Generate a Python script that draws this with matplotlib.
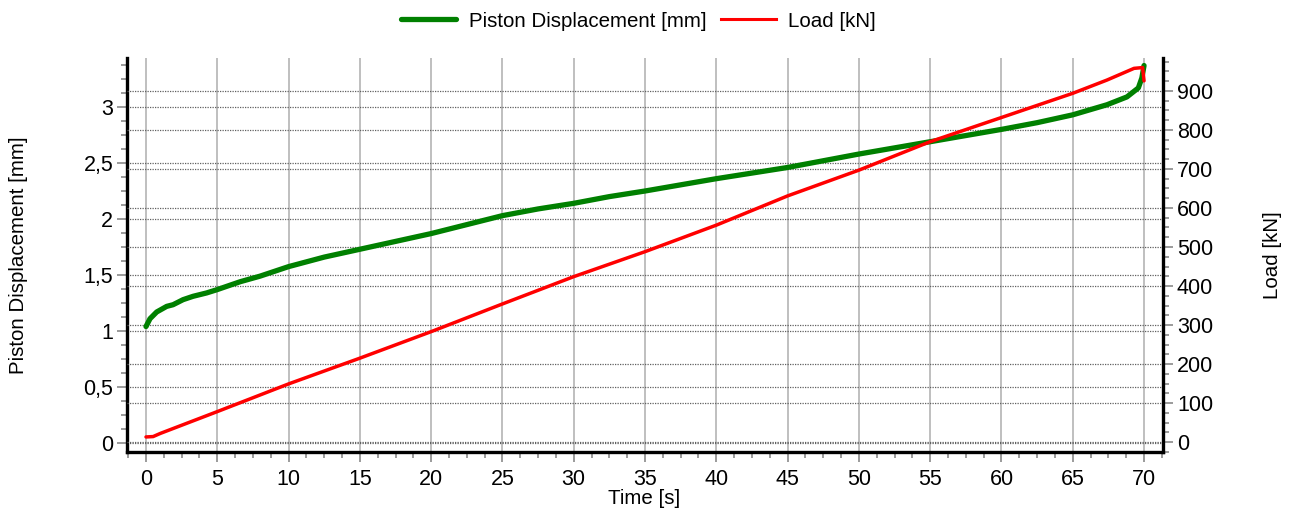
import matplotlib
matplotlib.use('Agg')
import matplotlib.pyplot as plt
from matplotlib.ticker import MultipleLocator, FuncFormatter
from matplotlib.lines import Line2D

plt.rcParams['font.family'] = ['Liberation Sans', 'DejaVu Sans']

# Piston displacement [mm] vs time [s]
t_disp = [0, 0.28, 0.75, 1.45, 1.9, 2.6, 3.3, 4.25, 5, 6.6, 8, 10, 12.5, 15, 17.5,
          20, 22.5, 25, 27.5, 30, 32.5, 35, 37.5, 40, 42.5, 45, 47.5, 50, 52.5,
          55, 57.5, 60, 62.5, 65, 67.4, 68.8, 69.6, 69.85, 70.0]
disp = [1.04, 1.11, 1.17, 1.22, 1.235, 1.28, 1.31, 1.34, 1.37, 1.44, 1.49, 1.575,
        1.66, 1.73, 1.80, 1.87, 1.95, 2.03, 2.09, 2.14, 2.20, 2.25, 2.305, 2.36,
        2.41, 2.46, 2.52, 2.58, 2.635, 2.69, 2.745, 2.80, 2.86, 2.93, 3.02, 3.09,
        3.17, 3.26, 3.37]

# Load [kN] vs time [s]
t_load = [0, 0.5, 1, 5, 10, 15, 20, 25, 30, 35, 40, 45, 50, 55, 60, 65, 67.4,
          69.3, 69.9, 70.0]
load = [13, 14, 22, 78, 149, 215, 283, 354, 424, 488, 556, 631, 697, 770, 832,
        894, 928, 958, 960, 926]

label_disp = 'Piston Displacement [mm]'
label_load = 'Load [kN]'
label_time = 'Time [s]'

GREEN = '#008000'
RED = '#ff0000'
FS = 14.8
TFS = 15.5

fig = plt.figure(figsize=(12.99, 5.14), dpi=100)
ax = fig.add_axes([0.0978, 0.1206, 0.7975, 0.7666])
ax2 = ax.twinx()

# grids
ax.grid(axis='x', color='#b4b4b4', lw=1.2, ls='-')
ax.grid(axis='y', color='#606060', lw=0.9, ls=(0, (1, 1)))
ax2.grid(axis='y', color='#606060', lw=0.9, ls=(0, (1, 1)))
ax.set_axisbelow(True)
ax2.set_axisbelow(True)

ax2.plot(t_disp, disp, transform=ax.transData, color=GREEN, lw=3.8,
         solid_capstyle='round', solid_joinstyle='round')
ax2.plot(t_load, load, color=RED, lw=2.5, solid_capstyle='round')

ax.set_xlim(-1.33, 71.33)
ax.set_ylim(-0.08, 3.4375)
ax2.set_ylim(-25.6, 984.6)

ax.xaxis.set_major_locator(MultipleLocator(5))
ax.xaxis.set_minor_locator(MultipleLocator(1.25))
ax.yaxis.set_major_locator(MultipleLocator(0.5))
ax.yaxis.set_minor_locator(MultipleLocator(0.125))
ax2.yaxis.set_major_locator(MultipleLocator(100))
ax2.yaxis.set_minor_locator(MultipleLocator(25))
ax.yaxis.set_major_formatter(FuncFormatter(lambda v, p: f'{v:g}'.replace('.', ',')))

for a in (ax, ax2):
    a.tick_params(which='major', direction='out', length=7, width=1.1,
                  color='#808080', labelsize=TFS, pad=3)
    a.tick_params(which='minor', direction='out', length=4.3, width=1.1,
                  color='#808080')
    a.spines['top'].set_visible(False)
ax.tick_params(axis='x', which='major', pad=5)

for s in ('left', 'bottom'):
    ax.spines[s].set_linewidth(2.4)
    ax.spines[s].set_color('black')
ax.spines['right'].set_visible(False)
ax2.spines['left'].set_visible(False)
ax2.spines['bottom'].set_visible(False)
ax2.spines['right'].set_linewidth(2.4)
ax2.spines['right'].set_color('black')

ax.set_ylabel(label_disp, fontsize=FS)
ax.yaxis.set_label_coords(-0.0956, 0.5)
ax2.set_ylabel(label_load, fontsize=FS)
ax2.yaxis.set_label_coords(1.0965, 0.5)
ax.set_xlabel(label_time, fontsize=FS)
ax.xaxis.set_label_coords(0.499, -0.094)

handles = [Line2D([], [], color=GREEN, lw=3.8, solid_capstyle='round'),
           Line2D([], [], color=RED, lw=2.2)]
fig.legend(handles, [label_disp, label_load], loc='center',
           bbox_to_anchor=(0.4915, 0.959), ncol=2, frameon=False, fontsize=FS,
           handlelength=2.7, handletextpad=0.6, columnspacing=0.7)

fig.savefig('out.png', dpi=100)
